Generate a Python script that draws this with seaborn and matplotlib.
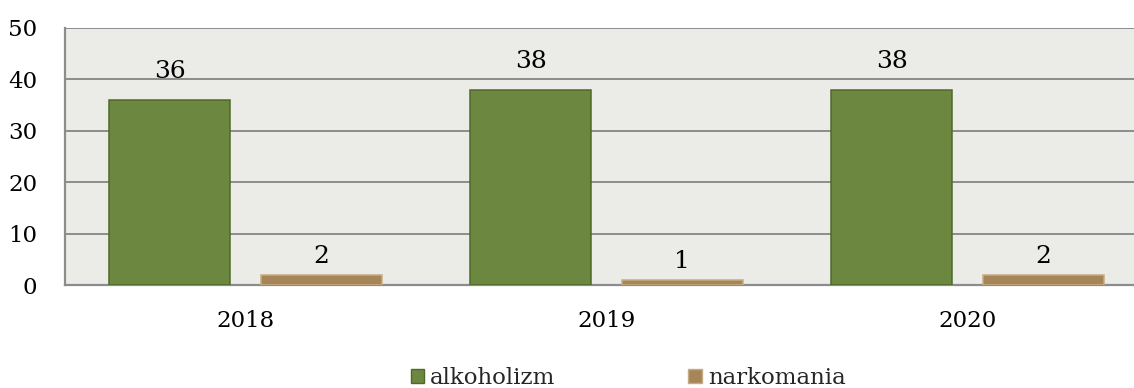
import matplotlib
matplotlib.use("Agg")
import matplotlib.pyplot as plt
import seaborn as sns
import pandas as pd
from matplotlib.patches import Patch

years = ["2018", "2019", "2020"]
alkoholizm = [36, 38, 38]
narkomania = [2, 1, 2]
series_names = ["alkoholizm", "narkomania"]
y_ticks = [0, 10, 20, 30, 40, 50]

df = pd.DataFrame({
    "rok": years * 2,
    "liczba": alkoholizm + narkomania,
    "kategoria": [series_names[0]] * 3 + [series_names[1]] * 3,
})

sns.set_theme(style="white")
plt.rcParams["font.family"] = ["DejaVu Serif"]

fig = plt.figure(figsize=(11.34, 3.88), dpi=100)
W, H = 1134, 388
left, right, top, bottom = 65, 1134, 28, 285
ax = fig.add_axes([left / W, 1 - bottom / H, (right - left) / W, (bottom - top) / H])

palette = {"alkoholizm": "#6B8740", "narkomania": "#A68659"}
edges = {"alkoholizm": "#4F6A28", "narkomania": "#C6AC84"}
label_pad = {"alkoholizm": 12, "narkomania": 5}

sns.barplot(data=df, x="rok", y="liczba", hue="kategoria", order=years,
            hue_order=series_names, palette=palette, saturation=1,
            width=0.84, gap=0.2, ax=ax, legend=False, zorder=3)

for container, name in zip(ax.containers, series_names):
    for patch in container:
        patch.set_edgecolor(edges[name])
        patch.set_linewidth(1.1)
    ax.bar_label(container, fmt="%d", padding=label_pad[name], fontsize=18, color="black")

ax.set_facecolor("#EBECE7")
ax.set_ylim(0, 50)
ax.set_yticks(y_ticks)
span = (right - left) / 361.0
ax.set_xlim(-0.5, -0.5 + span)
ax.yaxis.grid(True, color="#8C8C8C", linewidth=1.4, zorder=0)
ax.set_axisbelow(True)
for s in ["top", "right"]:
    ax.spines[s].set_visible(False)
for s in ["left", "bottom"]:
    ax.spines[s].set_color("#8C8C8C")
    ax.spines[s].set_linewidth(1.6)
ax.set_xlabel("")
ax.set_ylabel("")
ax.tick_params(axis="both", length=0, labelsize=16.5, colors="black")
ax.tick_params(axis="y", pad=20)
ax.tick_params(axis="x", pad=18)

handles = [Patch(facecolor=palette[n], edgecolor=edges[n], label=n) for n in series_names]
fig.legend(handles=handles, loc="center", bbox_to_anchor=(628 / W, 1 - 378 / H),
           ncol=2, frameon=False, fontsize=16.5, handlelength=0.6, handleheight=0.6,
           handletextpad=0.25, columnspacing=5.8)

fig.savefig("out.png", dpi=100)
